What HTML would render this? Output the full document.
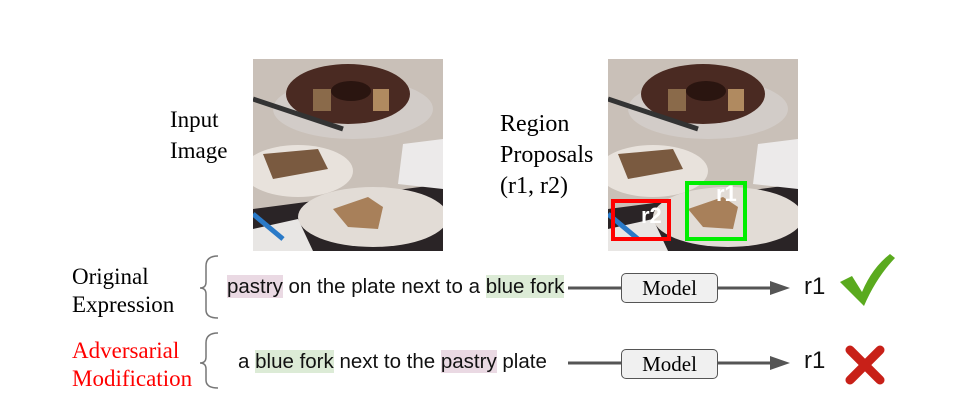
<!DOCTYPE html>
<html><head><meta charset="utf-8"><style>
body{margin:0;background:#fff;width:965px;height:412px;position:relative;overflow:hidden;font-family:"Liberation Sans",sans-serif}
.s{position:absolute;font-family:"Liberation Serif",serif;font-size:23px;color:#000;line-height:31px}
.t{position:absolute;font-size:20.5px;color:#111;white-space:nowrap}
.hp{background:#ead9e3}.hg{background:#dcebd6}
.m{position:absolute;width:95px;height:28px;border:1.5px solid #555;border-radius:5px;background:#f0f0f0;font-family:"Liberation Serif",serif;font-size:21px;text-align:center;line-height:28px}
</style></head><body>
<svg width="0" height="0" style="position:absolute"><defs>
<g id="photo">
<rect width="190" height="192" fill="#c9c0b8"/>
<path d="M0 150 L190 125 L190 192 L0 192Z" fill="#2a2426"/>
<ellipse cx="100" cy="50" rx="80" ry="30" fill="#d8d4d2" opacity=".6"/>
<ellipse cx="95" cy="35" rx="62" ry="30" fill="#4a2a22"/>
<ellipse cx="98" cy="32" rx="20" ry="10" fill="#2a1510"/>
<rect x="60" y="30" width="18" height="22" fill="#8a6a4a"/>
<rect x="120" y="30" width="16" height="22" fill="#b08a60"/>
<line x1="0" y1="40" x2="90" y2="70" stroke="#333" stroke-width="5"/>
<ellipse cx="45" cy="112" rx="55" ry="26" fill="#e8e2dc"/>
<path d="M10 95 L65 90 L75 110 L20 120Z" fill="#7a5a40"/>
<path d="M150 85 L190 80 L190 130 L145 125Z" fill="#eceaea"/>
<ellipse cx="120" cy="158" rx="75" ry="30" fill="#e2dcd6"/>
<path d="M80 150 L115 138 L130 148 L125 170 L95 168Z" fill="#a8805a"/>
<path d="M0 170 L45 160 L60 192 L0 192Z" fill="#e8e6e4"/>
<line x1="0" y1="155" x2="30" y2="180" stroke="#2a7ac8" stroke-width="5"/>
</g></defs></svg>
<svg style="position:absolute;left:253px;top:59px" width="190" height="193"><use href="#photo"/></svg>
<svg style="position:absolute;left:608px;top:59px" width="190" height="193">
<use href="#photo"/>
<rect x="5" y="142" width="56" height="38" fill="none" stroke="#f00" stroke-width="4"/>
<rect x="79" y="124" width="58" height="56" fill="none" stroke="#0e0" stroke-width="4"/>
<text x="33" y="164" font-family="Liberation Sans" font-weight="bold" font-size="22" fill="#fff">r2</text>
<text x="108" y="142" font-family="Liberation Sans" font-weight="bold" font-size="22" fill="#fff">r1</text>
</svg>
<div class="s" style="left:170px;top:104px">Input<br>Image</div>
<div class="s" style="left:500px;top:109px;font-size:24px">Region<br>Proposals<br>(r1, r2)</div>
<div class="s" style="left:72px;top:263px;line-height:28px">Original<br>Expression</div>
<div class="s" style="left:72px;top:337px;line-height:28px;color:#f00">Adversarial<br>Modification</div>
<svg style="position:absolute;left:0;top:0" width="965" height="412">
<path d="M218 256 Q206 256 206 266 L206 282 Q206 288 200 288 Q206 288 206 294 L206 310 Q206 318 218 318" fill="none" stroke="#777" stroke-width="1.5"/>
<path d="M218 333 Q206 333 206 343 L206 357 Q206 363 200 363 Q206 363 206 369 L206 380 Q206 388 218 388" fill="none" stroke="#777" stroke-width="1.5"/>
<g stroke="#555" stroke-width="3" fill="#555">
<line x1="568" y1="288" x2="621" y2="288"/><line x1="718" y1="288" x2="772" y2="288"/><path d="M770 281 L790 288 L770 295Z" stroke="none"/>
<line x1="568" y1="363" x2="621" y2="363"/><line x1="718" y1="363" x2="772" y2="363"/><path d="M770 356 L790 363 L770 370Z" stroke="none"/>
</g>
<path d="M840 282 L852 276 L862 292 Q872 268 890 254 L895 258 Q876 278 864 306 Z" fill="#5aaa1e"/>
<g stroke="#c82018" stroke-width="9" stroke-linecap="round"><line x1="850" y1="350" x2="880" y2="380"/><line x1="880" y1="350" x2="850" y2="380"/></g>
</svg>
<div class="t" style="left:227px;top:275px"><span class="hp">pastry</span> on the plate next to a <span class="hg">blue fork</span></div>
<div class="t" style="left:238px;top:350px">a <span class="hg">blue fork</span> next to the <span class="hp">pastry</span> plate</div>
<div class="m" style="left:621px;top:273px">Model</div>
<div class="m" style="left:621px;top:349px">Model</div>
<div class="t" style="left:804px;top:273px;font-size:24px">r1</div>
<div class="t" style="left:804px;top:347px;font-size:24px">r1</div>
</body></html>
